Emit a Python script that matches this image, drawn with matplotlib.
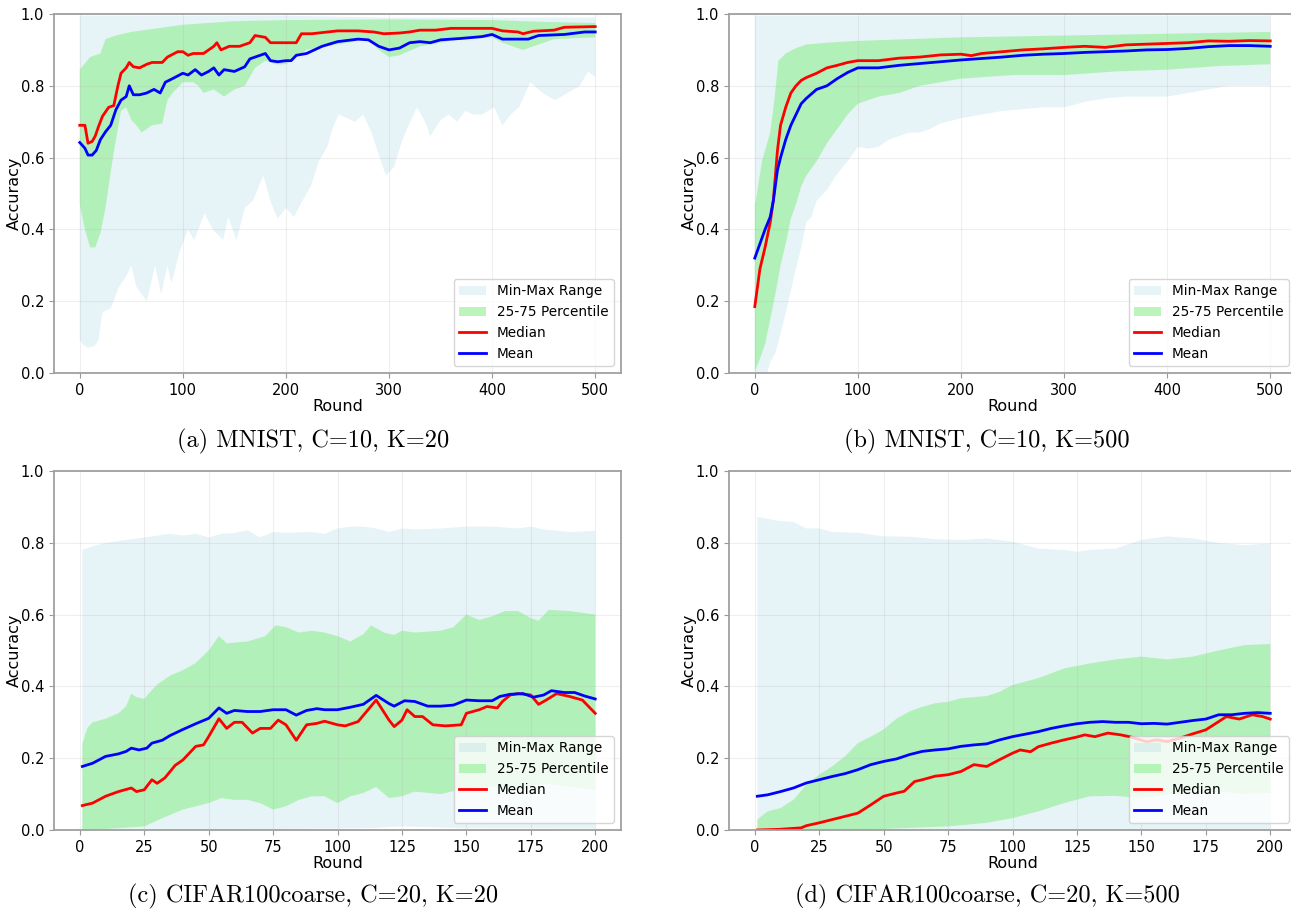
import matplotlib
matplotlib.use("Agg")
import matplotlib.pyplot as plt

# ---- (a) MNIST, C=10, K=20 ----
a_max_x = [0, 100, 200, 300, 400, 500]
a_max = [0.995, 0.995, 0.995, 0.99, 0.99, 0.99]
a_min_x = [0, 3, 8, 14, 18, 22, 30, 38, 45, 50,
           55, 65, 73, 79, 85, 89, 97, 105, 111, 121,
           129, 139, 144, 152, 160, 168, 178, 186, 192, 200,
           208, 216, 224, 232, 240, 245, 251, 259, 267, 275,
           283, 291, 297, 305, 313, 319, 327, 335, 340, 350,
           358, 366, 374, 382, 390, 402, 410, 418, 426, 437,
           449, 461, 473, 485, 493, 500]
a_min = [0.093, 0.08, 0.07, 0.075, 0.09, 0.17, 0.18, 0.24, 0.27, 0.30,
         0.24, 0.20, 0.30, 0.22, 0.30, 0.25, 0.34, 0.40, 0.37, 0.445,
         0.40, 0.37, 0.435, 0.37, 0.46, 0.48, 0.55, 0.47, 0.43, 0.46,
         0.435, 0.48, 0.52, 0.59, 0.63, 0.68, 0.72, 0.71, 0.70, 0.72,
         0.67, 0.60, 0.55, 0.575, 0.65, 0.69, 0.74, 0.70, 0.66, 0.705,
         0.72, 0.70, 0.73, 0.72, 0.72, 0.74, 0.69, 0.72, 0.74, 0.81,
         0.78, 0.76, 0.78, 0.80, 0.84, 0.825]
a_q75_x = [0, 10, 20, 25, 35, 50, 75, 100, 150, 200, 300, 400, 450, 500]
a_q75 = [0.845, 0.88, 0.89, 0.93, 0.94, 0.95, 0.96, 0.97, 0.98, 0.983,
         0.985, 0.983, 0.978, 0.975]
a_q25_x = [0, 5, 10, 15, 20, 25, 30, 35, 40, 45,
           50, 55, 60, 70, 80, 85, 90, 100, 110, 115,
           120, 130, 140, 150, 160, 170, 180, 190, 200, 210,
           220, 240, 260, 280, 290, 300, 310, 330, 350, 370,
           400, 410, 430, 440, 460, 500]
a_q25 = [0.47, 0.40, 0.35, 0.35, 0.39, 0.46, 0.56, 0.65, 0.73, 0.74,
         0.705, 0.69, 0.67, 0.69, 0.695, 0.76, 0.78, 0.81, 0.81, 0.80,
         0.78, 0.79, 0.77, 0.79, 0.80, 0.85, 0.87, 0.86, 0.86, 0.88,
         0.90, 0.91, 0.92, 0.93, 0.90, 0.88, 0.885, 0.91, 0.92, 0.93,
         0.935, 0.92, 0.90, 0.91, 0.93, 0.935]
a_median_x = [0, 5, 8, 12, 15, 18, 22, 28, 33, 37,
              40, 45, 48, 52, 58, 65, 70, 80, 85, 95,
              100, 105, 110, 120, 125, 130, 133, 137, 145, 155,
              165, 170, 180, 185, 190, 200, 210, 215, 225, 250,
              270, 285, 295, 310, 320, 330, 345, 360, 380, 400,
              410, 425, 430, 440, 460, 470, 500]
a_median = [0.69, 0.69, 0.64, 0.645, 0.66, 0.685, 0.715, 0.74, 0.745, 0.80,
            0.835, 0.85, 0.865, 0.853, 0.85, 0.86, 0.865, 0.865, 0.88, 0.895,
            0.895, 0.885, 0.89, 0.89, 0.90, 0.91, 0.92, 0.90, 0.91, 0.91,
            0.92, 0.94, 0.935, 0.92, 0.92, 0.92, 0.92, 0.945, 0.945, 0.953,
            0.953, 0.95, 0.945, 0.947, 0.95, 0.955, 0.955, 0.96, 0.96, 0.96,
            0.953, 0.95, 0.945, 0.952, 0.955, 0.963, 0.965]
a_mean_x = [0, 5, 8, 12, 16, 20, 25, 30, 35, 40,
            45, 48, 52, 58, 65, 72, 78, 83, 90, 100,
            105, 112, 118, 125, 130, 135, 140, 150, 160, 165,
            175, 180, 185, 192, 200, 205, 210, 220, 235, 250,
            270, 280, 290, 300, 310, 320, 330, 340, 350, 370,
            390, 400, 410, 425, 435, 445, 470, 490, 500]
a_mean = [0.642, 0.626, 0.607, 0.607, 0.62, 0.65, 0.672, 0.69, 0.733, 0.76,
          0.77, 0.80, 0.775, 0.775, 0.78, 0.79, 0.78, 0.81, 0.82, 0.835,
          0.83, 0.845, 0.83, 0.84, 0.85, 0.83, 0.845, 0.84, 0.853, 0.875,
          0.885, 0.89, 0.87, 0.867, 0.87, 0.87, 0.885, 0.89, 0.91, 0.923,
          0.93, 0.928, 0.91, 0.90, 0.905, 0.92, 0.923, 0.92, 0.928, 0.932,
          0.937, 0.943, 0.93, 0.93, 0.93, 0.94, 0.943, 0.95, 0.95]

# ---- (b) MNIST, C=10, K=500 ----
b_max_x = [0, 500]
b_max = [0.995, 0.995]
b_min_x = [0, 12, 15, 20, 25, 30, 35, 40, 45, 50,
           55, 60, 70, 80, 90, 95, 100, 110, 120, 130,
           140, 150, 160, 170, 180, 200, 220, 240, 260, 280,
           300, 320, 340, 360, 380, 400, 420, 440, 460, 480, 500]
b_min = [0.0, 0.0, 0.03, 0.056, 0.11, 0.167, 0.23, 0.29, 0.35, 0.42,
         0.435, 0.48, 0.51, 0.555, 0.59, 0.61, 0.63, 0.625, 0.63, 0.65,
         0.66, 0.67, 0.67, 0.68, 0.695, 0.71, 0.72, 0.73, 0.735, 0.74,
         0.74, 0.755, 0.765, 0.77, 0.77, 0.77, 0.78, 0.79, 0.80, 0.80, 0.80]
b_q75_x = [0, 1, 7, 15, 19, 23, 30, 40, 50, 70, 100, 150, 200, 300, 400, 500]
b_q75 = [0.47, 0.48, 0.59, 0.67, 0.76, 0.87, 0.89, 0.905, 0.915, 0.92,
         0.925, 0.93, 0.935, 0.94, 0.945, 0.95]
b_q25_x = [0, 5, 10, 15, 20, 25, 30, 35, 40, 45, 50, 60, 70, 80, 90, 100,
           120, 140, 160, 180, 200, 250, 300, 350, 400, 450, 500]
b_q25 = [0.005, 0.04, 0.08, 0.15, 0.22, 0.30, 0.36, 0.43, 0.47, 0.52, 0.55,
         0.59, 0.64, 0.68, 0.72, 0.75, 0.77, 0.78, 0.80, 0.81, 0.82, 0.83,
         0.83, 0.84, 0.845, 0.855, 0.86]
b_median_x = [0, 5, 10, 15, 18, 22, 25, 30, 35, 40,
              45, 50, 60, 70, 80, 90, 100, 120, 140, 160,
              180, 200, 210, 220, 240, 260, 280, 300, 320, 340,
              360, 380, 400, 420, 440, 460, 480, 500]
b_median = [0.185, 0.29, 0.35, 0.42, 0.48, 0.62, 0.69, 0.74, 0.78, 0.80,
            0.815, 0.823, 0.835, 0.85, 0.857, 0.865, 0.87, 0.87, 0.877, 0.88,
            0.886, 0.888, 0.884, 0.89, 0.895, 0.90, 0.903, 0.907, 0.91, 0.907,
            0.914, 0.916, 0.918, 0.92, 0.925, 0.924, 0.926, 0.925]
b_mean_x = [0, 5, 10, 15, 18, 22, 25, 30, 35, 40,
            45, 50, 60, 70, 80, 90, 100, 110, 120, 140,
            160, 180, 200, 220, 240, 260, 280, 300, 320, 340,
            360, 380, 400, 420, 440, 460, 480, 500]
b_mean = [0.32, 0.36, 0.40, 0.435, 0.48, 0.565, 0.60, 0.65, 0.69, 0.72,
          0.75, 0.765, 0.79, 0.80, 0.82, 0.837, 0.85, 0.85, 0.85, 0.857,
          0.862, 0.867, 0.872, 0.876, 0.88, 0.885, 0.888, 0.89, 0.893, 0.895,
          0.897, 0.90, 0.901, 0.904, 0.909, 0.912, 0.912, 0.91]

# ---- (c) CIFAR100coarse, C=20, K=20 ----
c_max_x = [1, 5, 10, 15, 20, 25, 30, 35, 40, 45,
           50, 55, 60, 65, 70, 75, 80, 90, 95, 100,
           105, 110, 115, 120, 125, 130, 140, 150, 160, 170,
           175, 180, 190, 200]
c_max = [0.78, 0.79, 0.80, 0.805, 0.81, 0.815, 0.82, 0.825, 0.82, 0.825,
         0.815, 0.825, 0.827, 0.835, 0.815, 0.83, 0.828, 0.83, 0.825, 0.84,
         0.845, 0.845, 0.84, 0.83, 0.84, 0.837, 0.84, 0.845, 0.845, 0.84,
         0.845, 0.837, 0.83, 0.833]
c_min_x = [1, 50, 100, 115, 125, 150, 200]
c_min = [0.0, 0.002, 0.004, 0.006, 0.01, 0.005, 0.004]
c_q75_x = [1, 3, 5, 10, 15, 18, 20, 22, 25, 28,
           30, 35, 40, 45, 50, 54, 57, 65, 72, 76,
           80, 85, 90, 95, 100, 105, 110, 113, 118, 122,
           125, 130, 140, 145, 150, 155, 160, 165, 170, 175,
           178, 182, 190, 195, 200]
c_q75 = [0.24, 0.285, 0.30, 0.31, 0.325, 0.345, 0.38, 0.37, 0.365, 0.39,
         0.405, 0.43, 0.445, 0.465, 0.50, 0.54, 0.52, 0.525, 0.54, 0.57,
         0.565, 0.55, 0.555, 0.55, 0.54, 0.525, 0.545, 0.57, 0.55, 0.543,
         0.555, 0.55, 0.555, 0.565, 0.60, 0.585, 0.595, 0.61, 0.61, 0.59,
         0.583, 0.613, 0.61, 0.605, 0.60]
c_q25_x = [1, 10, 25, 32, 40, 45, 50, 55, 60, 65,
           70, 75, 80, 85, 90, 95, 100, 105, 110, 115,
           120, 125, 130, 140, 150, 160, 170, 180, 190, 200]
c_q25 = [0.0, 0.003, 0.01, 0.033, 0.057, 0.066, 0.075, 0.089, 0.084, 0.084,
         0.075, 0.057, 0.066, 0.084, 0.094, 0.094, 0.075, 0.094, 0.103, 0.12,
         0.089, 0.094, 0.107, 0.10, 0.117, 0.12, 0.112, 0.13, 0.12, 0.112]
c_median_x = [1, 5, 10, 15, 20, 22, 25, 28, 30, 33,
              37, 40, 45, 48, 50, 54, 57, 60, 63, 67,
              70, 74, 77, 80, 84, 88, 92, 95, 100, 103,
              108, 115, 120, 122, 125, 127, 130, 133, 137, 142,
              148, 150, 155, 158, 162, 164, 167, 170, 175, 178,
              181, 185, 190, 195, 200]
c_median = [0.068, 0.075, 0.094, 0.107, 0.117, 0.107, 0.112, 0.14, 0.13, 0.145,
            0.18, 0.195, 0.233, 0.237, 0.26, 0.31, 0.283, 0.30, 0.30, 0.27,
            0.283, 0.283, 0.306, 0.293, 0.25, 0.293, 0.297, 0.303, 0.293, 0.29,
            0.302, 0.362, 0.306, 0.288, 0.306, 0.335, 0.316, 0.316, 0.293, 0.29,
            0.293, 0.325, 0.335, 0.344, 0.34, 0.358, 0.376, 0.38, 0.376, 0.35,
            0.362, 0.38, 0.372, 0.362, 0.325]
c_mean_x = [1, 5, 10, 15, 18, 20, 23, 26, 28, 32,
            35, 40, 45, 50, 54, 57, 60, 65, 70, 75,
            80, 84, 88, 92, 95, 100, 105, 110, 115, 120,
            122, 126, 130, 135, 140, 145, 150, 155, 160, 163,
            167, 172, 176, 180, 183, 188, 192, 196, 200]
c_mean = [0.177, 0.186, 0.205, 0.212, 0.219, 0.228, 0.223, 0.228, 0.242, 0.25,
          0.263, 0.28, 0.296, 0.311, 0.34, 0.325, 0.333, 0.33, 0.33, 0.335,
          0.335, 0.32, 0.333, 0.338, 0.335, 0.335, 0.342, 0.35, 0.375, 0.352,
          0.345, 0.36, 0.358, 0.345, 0.345, 0.348, 0.362, 0.36, 0.36, 0.372,
          0.378, 0.38, 0.37, 0.376, 0.388, 0.383, 0.383, 0.373, 0.365]

# ---- (d) CIFAR100coarse, C=20, K=500 ----
d_max_x = [1, 10, 15, 20, 25, 30, 40, 50, 60, 70,
           80, 90, 100, 110, 120, 125, 130, 140, 150, 160,
           170, 180, 190, 200]
d_max = [0.872, 0.86, 0.858, 0.84, 0.84, 0.83, 0.828, 0.818, 0.817, 0.81,
         0.808, 0.812, 0.803, 0.784, 0.78, 0.775, 0.78, 0.784, 0.808, 0.818,
         0.812, 0.80, 0.793, 0.798]
d_min_x = [1, 200]
d_min = [0.0, 0.0]
d_q75_x = [1, 5, 10, 15, 20, 25, 30, 35, 40, 45,
           50, 55, 60, 65, 70, 75, 80, 90, 95, 100,
           110, 120, 130, 140, 150, 160, 170, 180, 190, 200]
d_q75 = [0.029, 0.052, 0.061, 0.084, 0.126, 0.154, 0.177, 0.205, 0.242, 0.26,
         0.28, 0.31, 0.33, 0.343, 0.353, 0.357, 0.367, 0.373, 0.385, 0.404,
         0.423, 0.45, 0.464, 0.475, 0.483, 0.475, 0.483, 0.50, 0.515, 0.518]
d_q25_x = [1, 45, 50, 75, 90, 100, 110, 120, 130, 140,
           150, 160, 170, 180, 190, 200]
d_q25 = [0.0, 0.0, 0.003, 0.01, 0.02, 0.033, 0.052, 0.075, 0.094, 0.095,
         0.089, 0.098, 0.103, 0.107, 0.10, 0.103]
d_median_x = [1, 10, 18, 20, 25, 30, 35, 40, 45, 50,
              55, 58, 62, 65, 70, 75, 80, 85, 90, 95,
              100, 103, 107, 110, 115, 120, 125, 128, 132, 137,
              142, 146, 152, 156, 160, 165, 170, 175, 180, 183,
              188, 193, 197, 200]
d_median = [0.0, 0.002, 0.006, 0.012, 0.02, 0.029, 0.038, 0.047, 0.07, 0.094,
            0.103, 0.108, 0.135, 0.14, 0.15, 0.154, 0.163, 0.182, 0.177, 0.196,
            0.214, 0.223, 0.218, 0.232, 0.242, 0.251, 0.259, 0.265, 0.26, 0.27,
            0.265, 0.259, 0.246, 0.251, 0.246, 0.256, 0.268, 0.279, 0.302, 0.316,
            0.309, 0.321, 0.316, 0.309]
d_mean_x = [1, 5, 10, 15, 20, 25, 30, 35, 40, 45,
            50, 55, 60, 65, 70, 75, 80, 85, 90, 95,
            100, 105, 110, 115, 120, 125, 130, 135, 140, 145,
            150, 155, 160, 165, 170, 175, 180, 185, 190, 195, 200]
d_mean = [0.094, 0.098, 0.107, 0.117, 0.131, 0.14, 0.149, 0.157, 0.168, 0.182,
          0.191, 0.198, 0.21, 0.219, 0.223, 0.226, 0.233, 0.237, 0.24, 0.251,
          0.26, 0.267, 0.274, 0.283, 0.29, 0.296, 0.30, 0.302, 0.30, 0.30,
          0.296, 0.297, 0.295, 0.30, 0.305, 0.309, 0.321, 0.321, 0.325, 0.327,
          0.325]

captions = ["(a) MNIST, C=10, K=20", "(b) MNIST, C=10, K=500",
            "(c) CIFAR100coarse, C=20, K=20", "(d) CIFAR100coarse, C=20, K=500"]


def band(ax, x_lo, lo, x_hi, hi, **kw):
    """Shade the region between a lower and an upper curve."""
    xs = list(x_hi) + list(x_lo)[::-1]
    ys = list(hi) + list(lo)[::-1]
    return ax.fill(xs, ys, linewidth=0, **kw)


def plot_panel(ax, mn, mx, q25, q75, median, mean, xticks, xlim):
    band(ax, mn[0], mn[1], mx[0], mx[1], color='lightblue', alpha=0.3,
         label='Min-Max Range')
    band(ax, q25[0], q25[1], q75[0], q75[1], color='lightgreen', alpha=0.6,
         label='25-75 Percentile')
    ax.plot(median[0], median[1], color='red', linewidth=2, label='Median')
    ax.plot(mean[0], mean[1], color='blue', linewidth=2, label='Mean')

    ax.set_xlim(*xlim)
    ax.set_ylim(0, 1)
    ax.set_xticks(xticks)
    ax.set_yticks([0.0, 0.2, 0.4, 0.6, 0.8, 1.0])
    ax.tick_params(labelsize=10.5, color='#999999', length=3.5)
    ax.set_xlabel('Round', fontsize=11.5, labelpad=1)
    ax.set_ylabel('Accuracy', fontsize=11.5, labelpad=-1)
    ax.grid(True, alpha=0.2)
    for sp in ax.spines.values():
        sp.set_color('#a0a0a0')
        sp.set_linewidth(1.3)
    ax.legend(loc='lower right', fontsize=9.8)


fig = plt.figure(figsize=(12.91, 9.11), dpi=100)

w, h = 567 / 1291, 359 / 911
axes = [fig.add_axes([54 / 1291, 1 - 373 / 911, w, h]),
        fig.add_axes([729 / 1291, 1 - 373 / 911, w, h]),
        fig.add_axes([54 / 1291, 1 - 830 / 911, w, h]),
        fig.add_axes([729 / 1291, 1 - 830 / 911, w, h])]

ticks500 = [0, 100, 200, 300, 400, 500]
ticks200 = [0, 25, 50, 75, 100, 125, 150, 175, 200]

plot_panel(axes[0], (a_min_x, a_min), (a_max_x, a_max), (a_q25_x, a_q25),
           (a_q75_x, a_q75), (a_median_x, a_median), (a_mean_x, a_mean),
           ticks500, (-25, 525))
plot_panel(axes[1], (b_min_x, b_min), (b_max_x, b_max), (b_q25_x, b_q25),
           (b_q75_x, b_q75), (b_median_x, b_median), (b_mean_x, b_mean),
           ticks500, (-25, 525))
plot_panel(axes[2], (c_min_x, c_min), (c_max_x, c_max), (c_q25_x, c_q25),
           (c_q75_x, c_q75), (c_median_x, c_median), (c_mean_x, c_mean),
           ticks200, (-10, 210))
plot_panel(axes[3], (d_min_x, d_min), (d_max_x, d_max), (d_q25_x, d_q25),
           (d_q75_x, d_q75), (d_median_x, d_median), (d_mean_x, d_mean),
           ticks200, (-10, 210))

# subfigure captions underneath each panel
cap_pos = [(313, 441), (987, 441), (313, 896), (987, 896)]
for text, (px, py) in zip(captions, cap_pos):
    fig.text(px / 1291, 1 - py / 911, text, ha='center', va='center',
             fontsize=17.5, family=['cmr10', 'DejaVu Serif'])

fig.savefig('out.png', dpi=100)
